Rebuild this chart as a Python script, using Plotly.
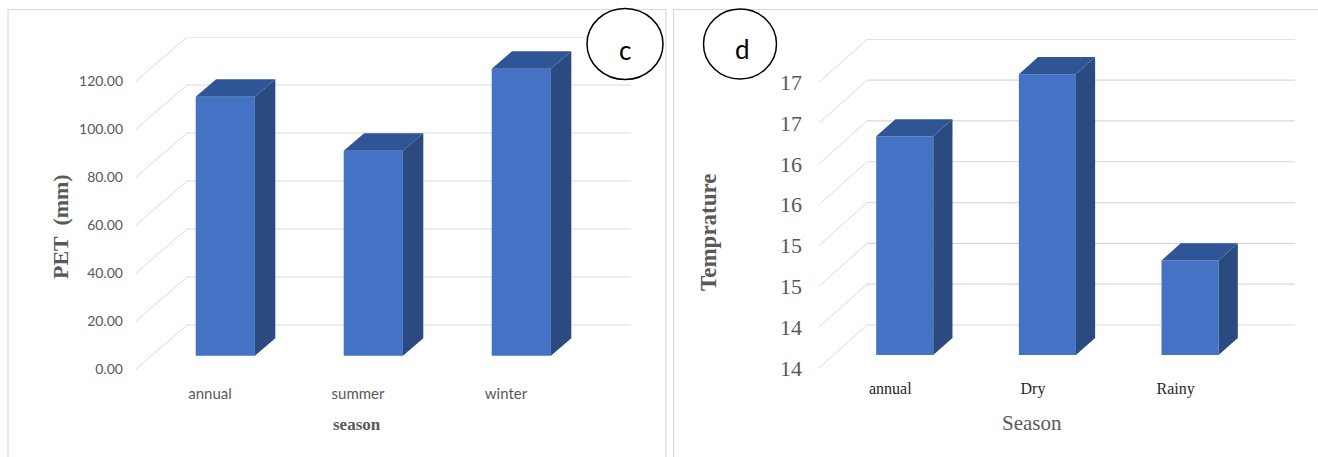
import plotly.graph_objects as go

# Panel c: potential evapotranspiration by season
pet_seasons = ["annual", "summer", "winter"]
pet_values = [107.9, 85.4, 119.6]
pet_ticks = [0, 20, 40, 60, 80, 100, 120]
pet_ticktext = ["0.00", "20.00", "40.00", "60.00", "80.00", "100.00", "120.00"]

# Panel d: temperature by season (axis labels are rounded to whole degrees)
temp_seasons = ["annual", "Dry", "Rainy"]
temp_values = [16.18, 16.94, 14.66]
temp_ticks = [13.5, 14.0, 14.5, 15.0, 15.5, 16.0, 16.5, 17.0]
temp_ticktext = ["14", "14", "15", "15", "16", "16", "17", "17"]

W, H = 1318, 457
FRONT = "#4472C4"
TOP = "#2F5597"
SIDE = "#2A4A80"
GRID = "#D9D9D9"
GREY = "#595959"
SERIF = "Liberation Serif"


def px_x(p):
    return p / W


def px_y(p):
    return 1 - p / H


def panel(fig, suffix, cats, vals, ticks, dx, dy):
    """Draw one pseudo-3D column panel; dx, dy give the full floor depth in axis units."""
    xa, ya = "x" + suffix, "y" + suffix
    base = ticks[0]
    near, far = 0.3, 0.7
    half = 0.2
    xs = list(range(len(cats)))

    fig.add_trace(go.Bar(
        x=[i + near * dx for i in xs],
        y=[v - base for v in vals],
        base=[base + near * dy] * len(vals),
        width=2 * half,
        marker=dict(color=FRONT, line=dict(width=0)),
        xaxis=xa, yaxis=ya, showlegend=False, hoverinfo="skip",
    ))

    for i, v in zip(xs, vals):
        xl = i - half + near * dx
        xr = i + half + near * dx
        xl2 = i - half + far * dx
        xr2 = i + half + far * dx
        bot, bot2 = base + near * dy, base + far * dy
        top, top2 = v + near * dy, v + far * dy
        # right-hand face
        fig.add_trace(go.Scatter(
            x=[xr, xr2, xr2, xr, xr], y=[bot, bot2, top2, top, bot],
            mode="lines", fill="toself", fillcolor=SIDE, line=dict(width=0),
            xaxis=xa, yaxis=ya, showlegend=False, hoverinfo="skip",
        ))
        # top face
        fig.add_trace(go.Scatter(
            x=[xl, xr, xr2, xl2, xl], y=[top, top, top2, top2, top],
            mode="lines", fill="toself", fillcolor=TOP, line=dict(width=0),
            xaxis=xa, yaxis=ya, showlegend=False, hoverinfo="skip",
        ))

    # Floor-to-wall gridlines: a diagonal along the side wall, then along the back wall
    x_left = -0.5
    x_right = x_left + len(cats) + dx
    for t in ticks:
        fig.add_shape(type="line", xref=xa, yref=ya, layer="below",
                      x0=x_left, y0=t, x1=x_left + dx, y1=t + dy,
                      line=dict(color=GRID, width=1))
        fig.add_shape(type="line", xref=xa, yref=ya, layer="below",
                      x0=x_left + dx, y0=t + dy, x1=x_right, y1=t + dy,
                      line=dict(color=GRID, width=1.2))
    return x_right, ticks[-1] + dy


fig = go.Figure()

pet_dx, pet_dy = 51 / 148, 44 / 2.4
temp_dx, temp_dy = 48 / 142.67, 43 / 81.6
xr1, yt1 = panel(fig, "", pet_seasons, pet_values, pet_ticks, pet_dx, pet_dy)
xr2, yt2 = panel(fig, "2", temp_seasons, temp_values, temp_ticks, temp_dx, temp_dy)

fig.update_layout(
    width=W, height=H, autosize=False,
    margin=dict(l=0, r=0, t=0, b=0),
    paper_bgcolor="white", plot_bgcolor="rgba(0,0,0,0)",
    showlegend=False,
    xaxis=dict(domain=[px_x(136), px_x(631)], range=[-0.5, xr1], automargin=False,
               tickvals=[0, 1, 2], ticktext=pet_seasons, showgrid=False, zeroline=False,
               showline=False, ticks="", ticklabelstandoff=14,
               tickfont=dict(family="Lato", size=15, color=GREY)),
    yaxis=dict(domain=[px_y(369), px_y(37)], range=[0, yt1], automargin=False,
               tickvals=pet_ticks, ticktext=pet_ticktext, showgrid=False, zeroline=False,
               showline=False, ticks="", ticklabelstandoff=12,
               tickfont=dict(family="Lato", size=14, color=GREY)),
    xaxis2=dict(domain=[px_x(819), px_x(1295)], range=[-0.5, xr2], anchor="y2", automargin=False,
                tickvals=[0, 1, 2], ticktext=temp_seasons, showgrid=False, zeroline=False,
                showline=False, ticks="", ticklabelstandoff=9,
                tickfont=dict(family=SERIF, size=16, color="#262626")),
    yaxis2=dict(domain=[px_y(368), px_y(39.3)], range=[13.5, yt2], anchor="x2", automargin=False,
                tickvals=temp_ticks, ticktext=temp_ticktext, showgrid=False, zeroline=False,
                showline=False, ticks="", ticklabelstandoff=16,
                tickfont=dict(family=SERIF, size=22, color=GREY)),
)

# Panel frames
frame = dict(color=GRID, width=1.2)
for x0, x1 in [(8, 666), (673.5, 1330)]:
    fig.add_shape(type="rect", xref="paper", yref="paper",
                  x0=px_x(x0), x1=px_x(x1), y0=px_y(470), y1=px_y(9.5), line=frame)

# Panel letters in circles
for cx, cy, rx, ry in [(625, 44, 38, 35.5), (740, 44, 36.5, 35)]:
    fig.add_shape(type="circle", xref="paper", yref="paper",
                  x0=px_x(cx - rx), x1=px_x(cx + rx), y0=px_y(cy + ry), y1=px_y(cy - ry),
                  fillcolor="white", line=dict(color="black", width=1.5))


def label(text, x, y, size, family, color, angle=0, bold=False):
    shown = f"<b>{text}</b>" if bold else text
    fig.add_annotation(text=shown, xref="paper", yref="paper", x=px_x(x), y=px_y(y),
                       xanchor="center", yanchor="middle", showarrow=False, textangle=angle,
                       font=dict(family=family, size=size, color=color))


label("c", 625, 50, 26, "Lato", "black")
label("d", 742, 49, 26, "Lato", "black")
label("season", 357, 424, 17, SERIF, GREY, bold=True)
label("PET  (mm)", 60, 227, 22, SERIF, GREY, angle=-90, bold=True)
label("Season", 1032, 423, 21, SERIF, GREY)
label("Temprature", 708, 232, 23, SERIF, GREY, angle=-90, bold=True)

fig.write_html("out.html")
